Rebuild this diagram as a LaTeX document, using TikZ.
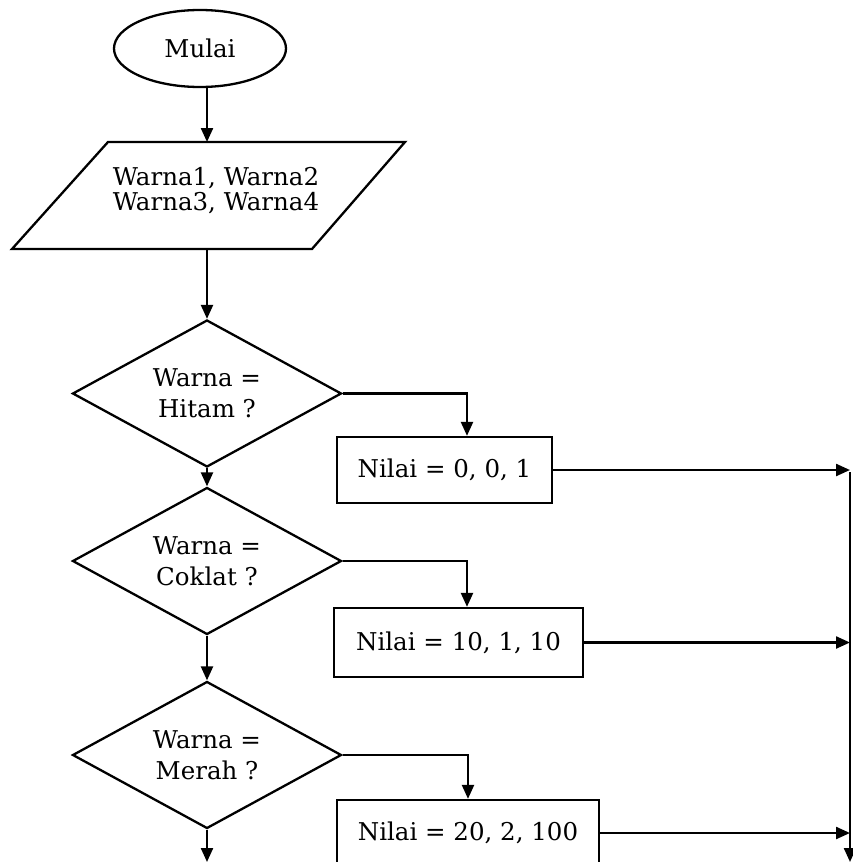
\documentclass[tikz,border=0pt]{standalone}
\usepackage{fontspec}
\setmainfont{DejaVu Serif}
\usetikzlibrary{shapes.geometric,arrows.meta}
\begin{document}
\begin{tikzpicture}[x=1pt,y=-1pt,
  line width=2.3pt,
  every node/.style={font=\fontsize{24.5}{29}\selectfont},
  arr/.style={-{Triangle[length=14pt,width=12pt]}},
  term/.style={draw,ellipse,minimum width=172pt,minimum height=77pt,inner sep=0pt},
  decide/.style={draw,diamond,aspect=1.83,minimum width=269pt,minimum height=147pt,inner sep=0pt,
    align=center,font=\fontsize{24.5}{31}\selectfont},
  proc/.style={draw,rectangle,inner sep=0pt}]
\useasboundingbox (0,0) rectangle (853,862);
\clip (0,0) rectangle (853,862);

% start
\node[term] (start) at (200,48.5) {Mulai};

% input parallelogram
\draw (108,142) -- (405,142) -- (312,249) -- (12,249) -- cycle;
\coordinate (inpN) at (207,142);
\coordinate (inpS) at (207,249);
\node[align=center,inner sep=0pt,font=\fontsize{24.5}{25}\selectfont] (inp) at (216,191)
  {Warna1, Warna2\\Warna3, Warna4};

% decisions
\node[decide] (d1) at (207,393.5) {Warna =\\Hitam ?};
\node[decide] (d2) at (207,561) {Warna =\\Coklat ?};
\node[decide] (d3) at (207,755) {Warna =\\Merah ?};

% assignments
\node[proc,minimum width=215pt,minimum height=66pt] (b1) at (444.5,470) {Nilai = 0, 0, 1};
\node[proc,minimum width=249pt,minimum height=69pt] (b2) at (458.5,642.5) {Nilai = 10, 1, 10};
\node[proc,minimum width=262pt,minimum height=66pt] (b3) at (468,833) {Nilai = 20, 2, 100};

% collector rail and loose ends
\coordinate (railtop) at (850,472);
\coordinate (railend) at (850,862);
\coordinate (flowend) at (207,862);

% main flow
\draw[arr] (start.south -| inpN) -- (inpN);
\draw[arr] (inpS) -- (d1.north);
\draw[arr] (d1.south) -- (d2.north);
\draw[arr] (d2.south) -- (d3.north);
\draw[arr] (d3.south) -- (flowend);

% branches
\draw[arr] (d1.east) -| ([xshift=22.5pt]b1.north);
\draw[arr] (d2.east) -| ([xshift=8.5pt]b2.north);
\draw[arr] (d3.east) -| (b3.north);

% outputs into the rail
\draw[arr] (b1.east) -- (b1.east -| railtop);
\draw[arr] (b2.east) -- (b2.east -| railtop);
\draw[arr] (b3.east) -- (b3.east -| railtop);
\draw[arr] (railtop) -- (railend);
\end{tikzpicture}
\end{document}
